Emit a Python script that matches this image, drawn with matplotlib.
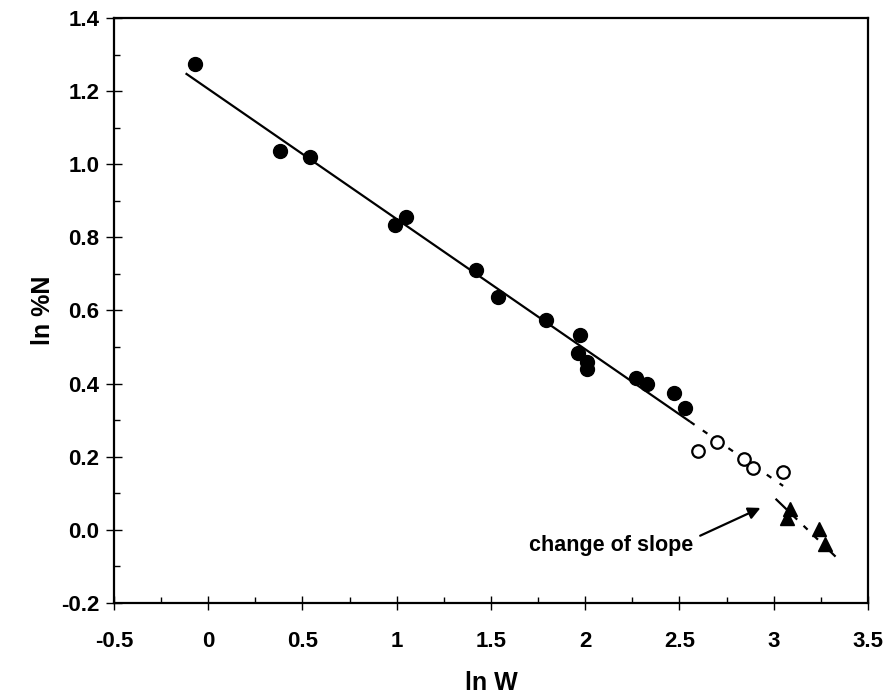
import matplotlib
matplotlib.use("Agg")
import matplotlib.pyplot as plt
import numpy as np
from matplotlib.ticker import MultipleLocator

plt.rcParams['font.family'] = ['Liberation Sans', 'DejaVu Sans']

# Data
filled_x = [-0.07, 0.38, 0.54, 0.99, 1.05, 1.42, 1.54, 1.79, 1.97, 1.96, 2.01, 2.01, 2.27, 2.33, 2.47, 2.53]
filled_y = [1.274, 1.036, 1.02, 0.833, 0.855, 0.712, 0.638, 0.573, 0.532, 0.485, 0.458, 0.441, 0.414, 0.40, 0.373, 0.334]

open_x = [2.60, 2.70, 2.845, 2.89, 3.05]
open_y = [0.216, 0.241, 0.195, 0.170, 0.158]

tri_x = [3.085, 3.07, 3.24, 3.27]
tri_y = [0.058, 0.032, 0.002, -0.038]

# Fitted lines: (slope, intercept, x-start, x-end)
fit1_slope, fit1_intercept = -0.356, 1.206
fit1_solid_range = (-0.12, 2.556)
fit1_dash_range = (2.556, 3.05)
fit2_slope, fit2_intercept = -0.497, 1.581
fit2_range = (3.01, 3.33)

xticks = [-0.5, 0, 0.5, 1, 1.5, 2, 2.5, 3, 3.5]
xtick_labels = ['-0.5', '0', '0.5', '1', '1.5', '2', '2.5', '3', '3.5']
yticks = [-0.2, 0.0, 0.2, 0.4, 0.6, 0.8, 1.0, 1.2, 1.4]
ytick_labels = ['-0.2', '0.0', '0.2', '0.4', '0.6', '0.8', '1.0', '1.2', '1.4']

annotation_text = 'change of slope'
annotation_text_pos = (2.575, -0.042)
annotation_tail = (2.61, -0.016)
annotation_head = (2.93, 0.060)

fig = plt.figure(figsize=(8.87, 6.95), dpi=100)
ax = fig.add_axes([0.1285, 0.1324, 0.8500, 0.8417])

def line(slope, intercept, rng):
    xs = np.array(rng)
    return xs, slope * xs + intercept

x1, y1 = line(fit1_slope, fit1_intercept, fit1_solid_range)
ax.plot(x1, y1, color='black', lw=1.6, solid_capstyle='butt', zorder=2)
x1d, y1d = line(fit1_slope, fit1_intercept, fit1_dash_range)
ax.plot(x1d, y1d, color='black', lw=1.6, linestyle=(0, (2.5, 4.5)), zorder=2)
x2, y2 = line(fit2_slope, fit2_intercept, fit2_range)
ax.plot(x2, y2, color='black', lw=1.6, linestyle=(0, (7, 4, 2.5, 4, 2.5, 4, 2.5, 4)), zorder=2)

ax.plot(filled_x, filled_y, 'o', color='black', ms=10, zorder=3)
ax.plot(open_x, open_y, 'o', mfc='white', mec='black', mew=1.6, ms=9, zorder=3)
ax.plot(tri_x, tri_y, '^', color='black', ms=10, zorder=3)

ax.text(annotation_text_pos[0], annotation_text_pos[1], annotation_text,
        ha='right', va='center', fontsize=15.5, fontweight='bold')
ax.annotate('', xy=annotation_head, xytext=annotation_tail,
            arrowprops=dict(arrowstyle='-|>', color='black', lw=1.6,
                            mutation_scale=18, shrinkA=0, shrinkB=0))

ax.set_xlim(-0.5, 3.5)
ax.set_ylim(-0.2, 1.4)
ax.set_xticks(xticks)
ax.set_xticklabels(xtick_labels, fontsize=16, fontweight='bold')
ax.set_yticks(yticks)
ax.set_yticklabels(ytick_labels, fontsize=16, fontweight='bold')
ax.xaxis.set_minor_locator(MultipleLocator(0.25))
ax.yaxis.set_minor_locator(MultipleLocator(0.1))

ax.tick_params(axis='x', which='major', direction='inout', length=10, width=1, pad=15)
ax.tick_params(axis='x', which='minor', direction='in', length=4, width=1)
ax.tick_params(axis='y', which='major', direction='inout', length=11, width=1, pad=5)
ax.tick_params(axis='y', which='minor', direction='in', length=4, width=1)

for sp in ax.spines.values():
    sp.set_linewidth(1.6)

ax.set_xlabel('ln W', fontsize=18, fontweight='bold', labelpad=14)
ax.set_ylabel('ln %N', fontsize=18, fontweight='bold', labelpad=4)

fig.savefig('out.png', dpi=100)
